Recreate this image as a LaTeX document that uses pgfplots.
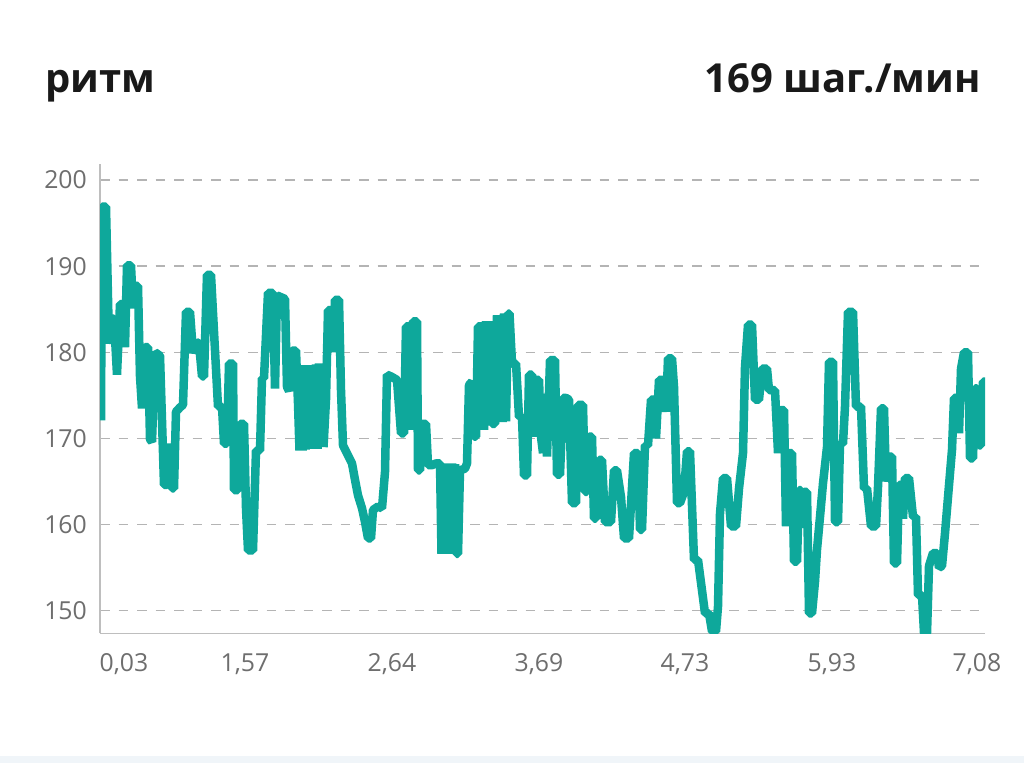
\documentclass[border=0pt]{standalone}
\usepackage{pgfplots}
\pgfplotsset{compat=1.18}
\usepackage{pgfplotstable}
\usepackage{fontspec}
\setmainfont{Open Sans}
\definecolor{teal1}{RGB}{14,168,155}
\definecolor{gridc}{RGB}{180,180,180}
\definecolor{axc}{RGB}{190,190,190}
\definecolor{tickc}{RGB}{110,110,110}
\definecolor{titc}{RGB}{25,25,25}
\definecolor{strip}{RGB}{240,245,249}
\pgfplotstableread{
x y
101 172.1
102 196.9
106 196.9
109 181.0
112 183.9
114 183.9
117 177.4
120 185.6
122 185.6
125 180.6
127 190.1
131 190.1
133 185.1
135 187.7
138 187.7
140 177.2
142 173.5
145 180.6
148 180.6
150 169.9
152 169.6
155 180.0
160 179.6
164 164.6
167 164.6
169 169.4
172 164.2
174 164.2
176 173.1
180 173.6
183 173.9
186 184.7
190 184.7
193 179.9
196 181.2
199 181.0
202 177.2
204 177.2
207 189.0
211 189.0
214 182.4
218 173.7
222 173.7
224 169.4
227 169.4
229 178.7
233 178.7
234 164.0
238 164.0
240 171.7
244 171.7
246 161.9
248 157.0
253 157.0
256 168.6
260 168.6
262 177.0
264 177.0
268 186.9
273 186.9
275 175.8
277 186.6
285 186.2
287 176.0
289 175.5
292 180.2
296 180.2
298 174.1
299.5 168.6
301 178.5
302.5 168.6
304 178.5
305.5 168.7
307 178.5
308.5 168.8
310 178.5
311.5 168.8
313 178.5
314.5 168.8
316 178.6
317.5 168.8
319 178.7
320.5 169.0
322 178.5
323.5 169.0
326 174.5
328 184.9
331 184.9
333 180.0
335 186.1
339 186.1
341 175.6
343 169.2
352 167.1
355 165.2
358 163.4
362 161.9
365 160.3
368 158.4
371 158.4
373 161.7
378 162.1
382 161.9
385 166.1
387 177.4
391 177.2
397 176.8
401 170.6
404 170.6
406 183.0
409 183.0
411 171.0
413 183.6
417 183.6
418 166.3
420 166.3
422 171.7
426 171.7
428 166.9
432 166.9
436 167.1
440 167.1
441.5 156.6
443 167.1
444.5 156.6
446 167.1
447.5 156.6
449 167.1
450.5 156.6
452 167.1
453.5 156.6
455 167.0
456.5 156.6
458 156.6
460 166.3
465 166.5
467 167.1
469 176.2
472 176.6
474 170.2
476 170.2
478 183.0
482 183.0
484 171.0
486 183.6
488 171.5
490 183.6
492 171.7
495 171.7
497 184.3
499 172.0
501 184.3
502.5 171.9
504 184.5
506 172.0
508 184.5
509.5 184.5
512 178.7
516 178.7
519 172.5
522 172.5
524 165.7
527 165.7
529 177.4
532 177.4
534 170.2
536 176.8
539 176.8
541 170.2
543 168.3
545 175.2
547 167.9
550 179.1
555 179.1
557 165.8
560 165.8
563 174.7
566 174.7
569 174.5
572 162.5
576 162.5
578 173.9
583 173.9
585 163.8
587 163.8
589 170.2
592 170.2
594 160.7
596 160.7
599 167.5
602 167.5
605 160.3
611 160.3
614 166.3
617 166.3
621 163.2
624 158.4
629 158.4
634 168.3
638 168.3
640 159.4
642 159.4
645 169.2
648 169.2
651 174.5
654 174.5
656 170.0
659 176.8
663 176.8
666 173.1
668 179.3
672 179.3
674 176.0
677 162.5
680 162.5
684 163.8
687 168.5
690 168.5
694 155.9
698 155.9
705 149.7
709 149.7
712 147.6
716 147.6
718 150.5
720 161.3
723 165.4
727 165.4
731 159.8
736 159.8
739 164.2
743 168.3
745 178.3
748 183.2
752 183.2
755 174.5
759 174.5
762 178.1
767 178.1
769 175.6
775 175.6
778 168.3
781 173.3
784 173.3
786 159.8
788 168.3
792 168.3
794 155.7
797 155.7
799 164.0
801 164.0
802 159.6
804 163.8
807 163.8
809 149.7
812 149.7
815 153.4
817 157.1
820 160.9
823 164.8
827 169.0
829 178.9
833 178.9
835 160.3
838 160.3
840 169.4
843 169.4
845 173.7
848 184.7
853 184.7
856 173.7
861 173.7
864 164.2
867 164.2
871 159.8
876 159.8
878 164.4
881 173.5
884 173.5
886 165.0
889 167.9
892 167.9
894 155.5
897 155.5
899 164.6
901 164.6
903 160.7
905 165.4
909 165.4
913 160.9
916 160.9
918 151.8
922 151.8
924 147.4
927 147.4
929 155.2
933 156.7
937 156.7
939 155.0
942 155.2
945 159.0
948 163.2
952 168.7
954 174.7
957 174.7
959 170.6
961 178.1
964 180.0
968 180.0
970 167.7
973 167.7
975 175.8
977 175.8
979 169.2
981 169.2
983 176.6
985 176.6
}\cadence
\begin{document}
\begin{tikzpicture}
\fill[white] (0pt,0pt) rectangle (1024pt,763pt);
\fill[strip] (0pt,0pt) rectangle (1024pt,7pt);
\node[anchor=base west, inner sep=0pt, font=\fontsize{40}{48}\selectfont\bfseries, text=titc] at (45pt,670pt) {ритм};
\node[anchor=base east, inner sep=0pt, font=\fontsize{40}{48}\selectfont\bfseries, text=titc] at (981pt,670pt) {169 шаг./мин};
\begin{axis}[
  at={(100pt,129.7pt)}, anchor=south west,
  scale only axis, width=885pt, height=469.3pt,
  xmin=100, xmax=985, ymin=147.38, ymax=201.86,
  axis x line*=bottom, axis y line*=left,
  axis line style={draw=axc, line width=1.5pt, -},
  xtick={124,245,392,539,685,832,977},
  xticklabels={{0,03},{1,57},{2,64},{3,69},{4,73},{5,93},{7,08}},
  ytick={150,160,170,180,190,200},
  yticklabels={150,160,170,180,190,200},
  major tick length=0pt,
  tick style={draw=none},
  ticklabel style={font=\fontsize{24.8}{30}\selectfont, text=tickc},
  yticklabel style={anchor=east, inner sep=0pt, xshift=-13pt},
  xticklabel style={anchor=north, inner sep=0pt, yshift=-20pt},
  ymajorgrids,
  major grid style={draw=gridc, line width=1.4pt, dash pattern=on 9.5pt off 9pt},
  clip=true,
]
\addplot[draw=teal1, line width=8.5pt, line join=bevel, line cap=butt] table[x=x,y=y] {\cadence};
\end{axis}
\end{tikzpicture}
\end{document}
